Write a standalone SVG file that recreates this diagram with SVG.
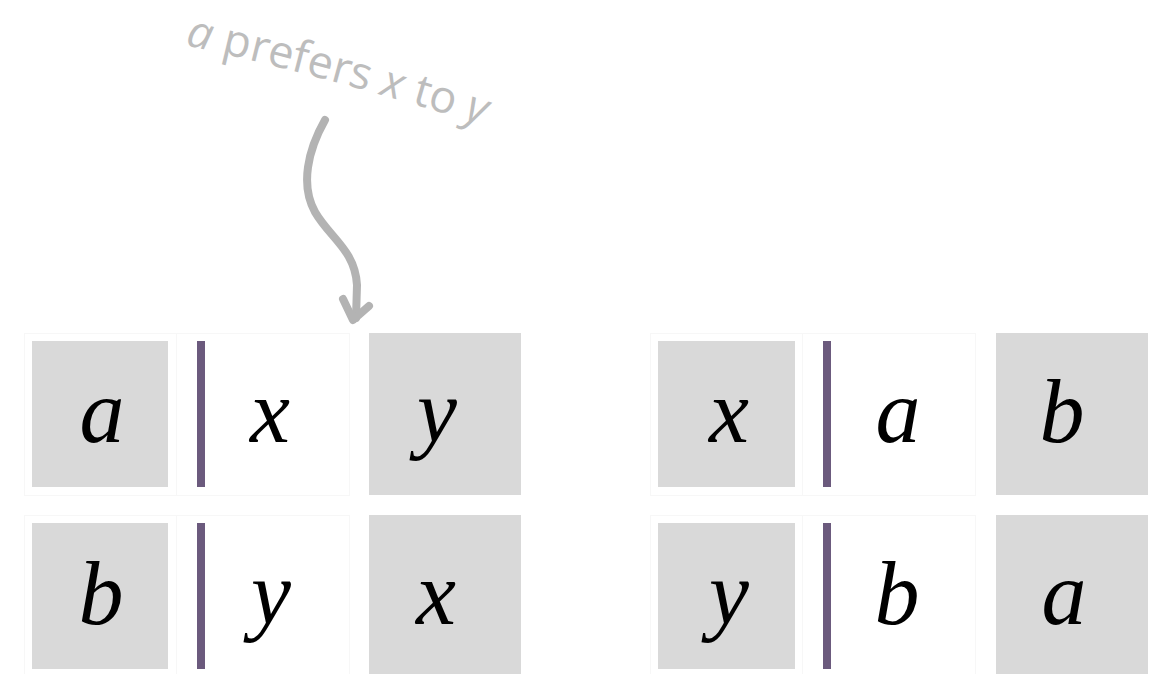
<svg xmlns="http://www.w3.org/2000/svg" width="1169" height="674" viewBox="0 0 1169 674">
<style>
.bg{fill:#ffffff}
.box{fill:#d9d9d9}
.bar{fill:#6b5a7d}
.cell{fill:none;stroke:#f7f7f7;stroke-width:1}
.m{font-family:"Liberation Serif","Times New Roman",serif;font-style:italic;font-size:90px;fill:#000;text-anchor:middle}
.note{font-family:"Open Sans","Noto Sans",sans-serif;font-size:45px;fill:#bdbdbd}
.v{font-style:italic}
.arrow{fill:none;stroke:#b3b3b3;stroke-width:8;stroke-linecap:round;stroke-linejoin:round}
</style>
<defs>
<path id="arc" d="M185,45 Q330,77 505,132"/>
</defs>
<rect class="bg" width="1169" height="674"/>

<g id="cells-left">
<rect class="cell" x="24.5" y="333.5" width="152" height="162"/>
<rect class="cell" x="176.5" y="333.5" width="173" height="162"/>
<rect class="cell" x="24.5" y="515.5" width="152" height="162"/>
<rect class="cell" x="176.5" y="515.5" width="173" height="162"/>
</g>
<g id="cells-right">
<rect class="cell" x="650.5" y="333.5" width="152" height="162"/>
<rect class="cell" x="802.5" y="333.5" width="173" height="162"/>
<rect class="cell" x="650.5" y="515.5" width="152" height="162"/>
<rect class="cell" x="802.5" y="515.5" width="173" height="162"/>
</g>

<g id="L1-agent"><rect class="box" x="32" y="341" width="136" height="146"/><text class="m" x="102" y="442">a</text></g>
<g id="L1-bar"><rect class="bar" x="197" y="341" width="8" height="146"/></g>
<g id="L1-first"><text class="m" x="270" y="442">x</text></g>
<g id="L1-second"><rect class="box" x="369" y="333" width="152" height="162"/><text class="m" x="437" y="442">y</text></g>

<g id="L2-agent"><rect class="box" x="32" y="523" width="136" height="146"/><text class="m" x="101" y="624">b</text></g>
<g id="L2-bar"><rect class="bar" x="197" y="523" width="8" height="146"/></g>
<g id="L2-first"><text class="m" x="271" y="624">y</text></g>
<g id="L2-second"><rect class="box" x="369" y="515" width="152" height="162"/><text class="m" x="436" y="624">x</text></g>

<g id="R1-agent"><rect class="box" x="658" y="341" width="137" height="146"/><text class="m" x="729" y="442">x</text></g>
<g id="R1-bar"><rect class="bar" x="823" y="341" width="8" height="146"/></g>
<g id="R1-first"><text class="m" x="898" y="442">a</text></g>
<g id="R1-second"><rect class="box" x="996" y="333" width="152" height="162"/><text class="m" x="1062" y="442">b</text></g>

<g id="R2-agent"><rect class="box" x="658" y="523" width="137" height="146"/><text class="m" x="729" y="624">y</text></g>
<g id="R2-bar"><rect class="bar" x="823" y="523" width="8" height="146"/></g>
<g id="R2-first"><text class="m" x="897" y="624">b</text></g>
<g id="R2-second"><rect class="box" x="996" y="515" width="152" height="162"/><text class="m" x="1064" y="624">a</text></g>

<g id="annotation">
<text class="note"><textPath href="#arc"><tspan class="v">a</tspan> prefers <tspan class="v">x</tspan> to <tspan class="v">y</tspan></textPath></text>
</g>
<g id="connectors">
<path class="arrow" d="M325,120 C308,150 300,185 315,212 C330,238 355,250 357,285 L356,318"/>
<polyline class="arrow" points="343,299 353,320 369,306"/>
</g>
</svg>
